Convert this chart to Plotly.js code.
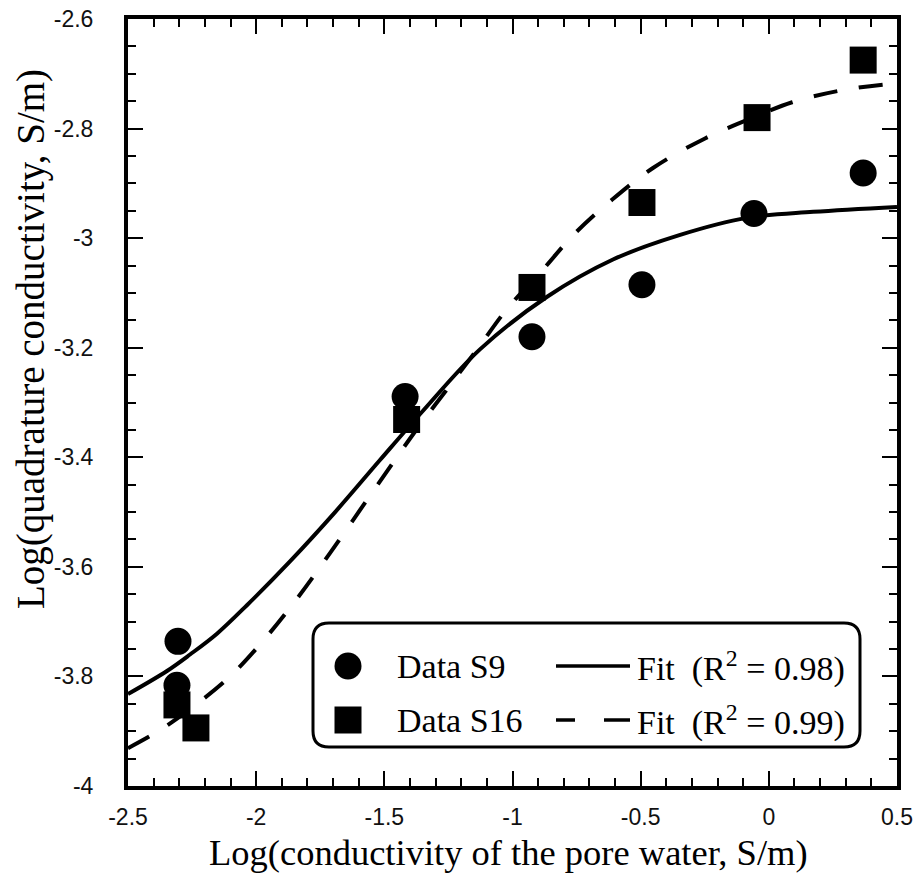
<!DOCTYPE html>
<html>
<head>
<meta charset="utf-8">
<script src="https://cdn.plot.ly/plotly-3.0.1.min.js"></script>
<style>html,body{margin:0;padding:0;background:#fff;}#chart{width:920px;height:891px;}</style>
</head>
<body>
<div id="chart"></div>
<script>
// ---- data ----
const s9X = [-2.305, -2.309, -1.419, -0.924, -0.495, -0.058, 0.368];
const s9Y = [-3.736, -3.816, -3.289, -3.180, -3.085, -2.955, -2.881];

const s16X = [-2.309, -2.235, -1.413, -0.924, -0.495, -0.046, 0.368];
const s16Y = [-3.852, -3.894, -3.331, -3.090, -2.935, -2.780, -2.675];

const fitS9X = [-2.5, -2.348, -2.258, -2.153, -2.036, -1.868, -1.692, -1.517, -1.349, -1.127, -0.865, -0.608, -0.346, -0.085, 0.173, 0.5];
const fitS9Y = [-3.832, -3.790, -3.760, -3.722, -3.670, -3.590, -3.500, -3.405, -3.315, -3.203, -3.107, -3.039, -2.994, -2.963, -2.952, -2.943];

const fitS16X = [-2.5, -2.375, -2.242, -2.102, -1.973, -1.860, -1.712, -1.556, -1.380, -1.259, -1.138, -1.021, -0.877, -0.760, -0.612, -0.452, -0.249, -0.046, 0.091, 0.286, 0.5];
const fitS16Y = [-3.931, -3.898, -3.854, -3.800, -3.735, -3.670, -3.575, -3.470, -3.353, -3.278, -3.203, -3.129, -3.055, -2.993, -2.930, -2.872, -2.818, -2.777, -2.752, -2.730, -2.717];

const xTickVals = [-2.5, -2, -1.5, -1, -0.5, 0, 0.5];
const xTickText = ["-2.5", "-2", "-1.5", "-1", "-0.5", "0", "0.5"];
const yTickVals = [-4, -3.8, -3.6, -3.4, -3.2, -3, -2.8, -2.6];
const yTickText = ["-4", "-3.8", "-3.6", "-3.4", "-3.2", "-3", "-2.8", "-2.6"];

const legendNames = ["Data S9", "Fit\u00a0\u00a0(R<sup>2</sup> = 0.98)", "Data S16", "Fit\u00a0\u00a0(R<sup>2</sup> = 0.99)"];
const xTitle = "Log(conductivity of the pore water, S/m)";
const yTitle = "Log(quadrature conductivity, S/m)";

// ---- layout geometry ----
const W = 920, Hh = 891;
const mL = 128, mR = 23, mT = 19, mB = 105;
const PW = W - mL - mR, PH = Hh - mT - mB;
const px = X => (X - mL) / PW;
const py = Y => (mT + PH - Y) / PH;

const serif = "Liberation Serif, Times New Roman, serif";
const sans = "Liberation Sans, Arial, sans-serif";

const traces = [
  {x: fitS9X, y: fitS9Y, mode: "lines", name: legendNames[1], line: {color: "#000", width: 4, shape: "spline", smoothing: 1}, showlegend: false},
  {x: fitS16X, y: fitS16Y, mode: "lines", name: legendNames[3], line: {color: "#000", width: 4, shape: "spline", smoothing: 1, dash: "24px,22px"}, showlegend: false},
  {x: s9X, y: s9Y, mode: "markers", name: legendNames[0], marker: {symbol: "circle", size: 27, color: "#000"}, showlegend: false, cliponaxis: false},
  {x: s16X, y: s16Y, mode: "markers", name: legendNames[2], marker: {symbol: "square", size: 27, color: "#000"}, showlegend: false, cliponaxis: false}
];

// legend box (rounded rectangle)
function roundRect(x0, y0, x1, y1, r) {
  const P = (X, Y) => px(X).toFixed(5) + "," + py(Y).toFixed(5);
  return "M" + P(x0 + r, y0) + " L" + P(x1 - r, y0) + " Q" + P(x1, y0) + " " + P(x1, y0 + r) +
    " L" + P(x1, y1 - r) + " Q" + P(x1, y1) + " " + P(x1 - r, y1) +
    " L" + P(x0 + r, y1) + " Q" + P(x0, y1) + " " + P(x0, y1 - r) +
    " L" + P(x0, y0 + r) + " Q" + P(x0, y0) + " " + P(x0 + r, y0) + " Z";
}
const row1 = 666, row2 = 720;
const shapes = [
  {type: "path", xref: "paper", yref: "paper", path: roundRect(313, 623, 860, 747, 16), line: {color: "#000", width: 3}, fillcolor: "#fff", layer: "above"},
  {type: "circle", xref: "paper", yref: "paper", xsizemode: "pixel", ysizemode: "pixel", xanchor: px(348), yanchor: py(row1), x0: -13.5, x1: 13.5, y0: -13.5, y1: 13.5, fillcolor: "#000", line: {width: 0}, layer: "above"},
  {type: "rect", xref: "paper", yref: "paper", xsizemode: "pixel", ysizemode: "pixel", xanchor: px(348), yanchor: py(row2), x0: -13.5, x1: 13.5, y0: -13.5, y1: 13.5, fillcolor: "#000", line: {width: 0}, layer: "above"},
  {type: "line", xref: "paper", yref: "paper", x0: px(556), x1: px(630), y0: py(row1), y1: py(row1), line: {color: "#000", width: 3.5}, layer: "above"},
  {type: "line", xref: "paper", yref: "paper", x0: px(556), x1: px(575), y0: py(row2), y1: py(row2), line: {color: "#000", width: 3.5}, layer: "above"},
  {type: "line", xref: "paper", yref: "paper", x0: px(604), x1: px(630), y0: py(row2), y1: py(row2), line: {color: "#000", width: 3.5}, layer: "above"}
];

const legFont = {family: serif, size: 34, color: "#000"};
const annotations = [
  {xref: "paper", yref: "paper", x: px(395), y: py(row1), xanchor: "left", yanchor: "middle", text: legendNames[0], showarrow: false, font: legFont},
  {xref: "paper", yref: "paper", x: px(635), y: py(row1), xanchor: "left", yanchor: "middle", text: legendNames[1], showarrow: false, font: legFont},
  {xref: "paper", yref: "paper", x: px(395), y: py(row2), xanchor: "left", yanchor: "middle", text: legendNames[2], showarrow: false, font: legFont},
  {xref: "paper", yref: "paper", x: px(635), y: py(row2), xanchor: "left", yanchor: "middle", text: legendNames[3], showarrow: false, font: legFont},
  {xref: "paper", yref: "paper", x: px(508), y: py(852), xanchor: "center", yanchor: "middle", text: xTitle, showarrow: false, font: {family: serif, size: 36.5, color: "#000"}},
  {xref: "paper", yref: "paper", x: px(31), y: py(339), xanchor: "center", yanchor: "middle", textangle: -90, text: yTitle, showarrow: false, font: {family: serif, size: 39, color: "#000"}}
];

const axisCommon = {
  showline: true, linecolor: "#000", linewidth: 4, mirror: "ticks",
  ticks: "inside", ticklen: 15, tickwidth: 2, tickcolor: "#000",
  showgrid: false, zeroline: false,
  tickfont: {family: sans, size: 23, color: "#111"},
  tickmode: "array"
};

const layout = {
  width: W, height: Hh,
  margin: {l: mL, r: mR, t: mT, b: mB, pad: 0},
  paper_bgcolor: "#fff", plot_bgcolor: "#fff",
  showlegend: false,
  xaxis: Object.assign({}, axisCommon, {
    range: [-2.5, 0.5], tickvals: xTickVals, ticktext: xTickText, ticklabelstandoff: 7,
    minor: {dtick: 0.1, ticks: "inside", ticklen: 8, tickwidth: 2, tickcolor: "#000", showgrid: false}
  }),
  yaxis: Object.assign({}, axisCommon, {
    range: [-4, -2.6], tickvals: yTickVals, ticktext: yTickText, ticklabelstandoff: 26,
    minor: {dtick: 0.05, ticks: "inside", ticklen: 8, tickwidth: 2, tickcolor: "#000", showgrid: false}
  }),
  shapes: shapes,
  annotations: annotations
};

Plotly.newPlot("chart", traces, layout, {displayModeBar: false, staticPlot: true});
</script>
</body>
</html>
